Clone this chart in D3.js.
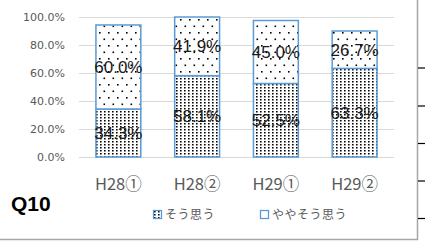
<!DOCTYPE html>
<html>
<head>
<meta charset="utf-8">
<script src="https://cdn.jsdelivr.net/npm/d3@7"></script>
<style>
  body { margin: 0; background: #fff; }
</style>
</head>
<body>
<script>
// chart data
var categories = ["H28①", "H28②", "H29①", "H29②"];
var soOmou = [34.3, 58.1, 52.5, 63.3];       // そう思う
var yaya = [60.0, 41.9, 45.0, 26.7];          // ややそう思う
var seriesNames = ["そう思う", "ややそう思う"];
var yTicks = [0, 20, 40, 60, 80, 100];

var W = 425, H = 242;
var margin = { top: 17, left: 79, right: 31, bottom: 85 };
var width = W - margin.left - margin.right,
    height = H - margin.top - margin.bottom;

var svg = d3.select("body")
    .append("svg")
    .attr("width", W)
    .attr("height", H);

// patterns
var defs = svg.append("defs");
var dense = defs.append("pattern")
    .attr("id", "dense")
    .attr("patternUnits", "userSpaceOnUse")
    .attr("width", 4).attr("height", 3);
dense.append("rect").attr("width", 4).attr("height", 3).attr("fill", "#fff");
dense.append("rect").attr("x", 1).attr("y", 1).attr("width", 1.6).attr("height", 1.5).attr("fill", "#000");

var sparse = defs.append("pattern")
    .attr("id", "sparse")
    .attr("patternUnits", "userSpaceOnUse")
    .attr("width", 9).attr("height", 13);
sparse.append("rect").attr("width", 9).attr("height", 13).attr("fill", "#fff");
sparse.append("rect").attr("x", 2).attr("y", 2).attr("width", 1.6).attr("height", 1.6).attr("fill", "#000");
sparse.append("rect").attr("x", 6.5).attr("y", 8.5).attr("width", 1.6).attr("height", 1.6).attr("fill", "#000");

var g = svg.append("g")
    .attr("transform", "translate(" + margin.left + "," + margin.top + ")");

// scales
var x = d3.scaleBand()
    .domain(categories)
    .range([0, width])
    .paddingInner(0.43)
    .paddingOuter(0.215);
var y = d3.scaleLinear()
    .domain([0, 100])
    .range([height, 0]);

// gridlines
g.selectAll(".grid")
    .data(yTicks)
    .enter()
    .append("line")
    .attr("x1", 0).attr("x2", width)
    .attr("y1", function(d) { return y(d) + 0.5; })
    .attr("y2", function(d) { return y(d) + 0.5; })
    .attr("stroke", "#d9d9d9")
    .attr("stroke-width", 1);

// y axis labels
var yAxis = g.append("g")
    .call(d3.axisLeft(y).tickValues(yTicks).tickSize(0).tickPadding(14)
        .tickFormat(function(d) { return d.toFixed(1) + "%"; }));
yAxis.select(".domain").remove();
yAxis.selectAll("text")
    .attr("fill", "#595959")
    .style("font-family", "'DejaVu Sans', sans-serif")
    .style("font-size", "11px");

// stacked bars
var rows = categories.map(function(c, i) {
    return { cat: c, a: soOmou[i], b: yaya[i] };
});

var bars = g.selectAll(".bar")
    .data(rows)
    .enter()
    .append("g");

bars.append("rect")
    .attr("x", function(d) { return x(d.cat); })
    .attr("y", function(d) { return y(d.a); })
    .attr("width", x.bandwidth())
    .attr("height", function(d) { return y(0) - y(d.a); })
    .attr("fill", "url(#dense)")
    .attr("stroke", "#5b9bd5")
    .attr("stroke-width", 1.5);

bars.append("rect")
    .attr("x", function(d) { return x(d.cat); })
    .attr("y", function(d) { return y(d.a + d.b); })
    .attr("width", x.bandwidth())
    .attr("height", function(d) { return y(d.a) - y(d.a + d.b); })
    .attr("fill", "url(#sparse)")
    .attr("stroke", "#5b9bd5")
    .attr("stroke-width", 1.5);

// data labels
var labelFont = "'Liberation Sans Narrow', 'Arial Narrow', sans-serif";
bars.append("text")
    .attr("x", function(d) { return x(d.cat) + x.bandwidth() / 2; })
    .attr("y", function(d) { return y(d.a / 2); })
    .attr("dy", "0.35em")
    .attr("text-anchor", "middle")
    .style("font-family", labelFont)
    .style("font-size", "17px")
    .attr("fill", "#1a1a1a")
    .text(function(d) { return d.a.toFixed(1) + "%"; });

bars.append("text")
    .attr("x", function(d) { return x(d.cat) + x.bandwidth() / 2; })
    .attr("y", function(d) { return y(d.a + d.b / 2); })
    .attr("dy", "0.35em")
    .attr("text-anchor", "middle")
    .style("font-family", labelFont)
    .style("font-size", "17px")
    .attr("fill", "#1a1a1a")
    .text(function(d) { return d.b.toFixed(1) + "%"; });

// x axis labels
g.selectAll(".xlab")
    .data(categories)
    .enter()
    .append("text")
    .attr("x", function(d) { return x(d) + x.bandwidth() / 2; })
    .attr("y", height + 33)
    .attr("text-anchor", "middle")
    .attr("fill", "#595959")
    .style("font-family", "'Noto Sans CJK JP', sans-serif")
    .style("font-size", "16.5px")
    .text(function(d) { return d; });

// Q10 title
svg.append("text")
    .attr("x", 11)
    .attr("y", 211)
    .style("font-family", "'Liberation Sans', Arial, sans-serif")
    .style("font-weight", "bold")
    .style("font-size", "21px")
    .attr("fill", "#000")
    .text("Q10");

// legend
var legendX = [153, 260];
var legendFill = ["url(#dense)", "#fff"];
var leg = svg.selectAll(".legend")
    .data(seriesNames)
    .enter()
    .append("g")
    .attr("transform", function(d, i) { return "translate(" + legendX[i] + ",210)"; });
leg.append("rect")
    .attr("x", 0.5).attr("y", 0.5)
    .attr("width", 8).attr("height", 8)
    .attr("fill", function(d, i) { return legendFill[i]; })
    .attr("stroke", "#5b9bd5")
    .attr("stroke-width", 1.3);
leg.append("text")
    .attr("x", 12)
    .attr("y", 9)
    .attr("fill", "#595959")
    .style("font-family", "'Noto Sans CJK JP', sans-serif")
    .style("font-size", "12px")
    .style("letter-spacing", "0.5px")
    .text(function(d) { return d; });

// outer frame lines and tick marks on the right
svg.append("line")
    .attr("x1", 417.5).attr("x2", 417.5)
    .attr("y1", 0).attr("y2", 240)
    .attr("stroke", "#a6a6a6").attr("stroke-width", 1.5);
svg.append("line")
    .attr("x1", 0).attr("x2", 418)
    .attr("y1", 239.5).attr("y2", 239.5)
    .attr("stroke", "#a6a6a6").attr("stroke-width", 1.5);
var rightTicks = [68, 106, 143.5, 181, 218.5];
svg.selectAll(".rtick")
    .data(rightTicks)
    .enter()
    .append("line")
    .attr("x1", 418).attr("x2", 425)
    .attr("y1", function(d) { return d; })
    .attr("y2", function(d) { return d; })
    .attr("stroke", "#000").attr("stroke-width", 1.2);
</script>
</body>
</html>
